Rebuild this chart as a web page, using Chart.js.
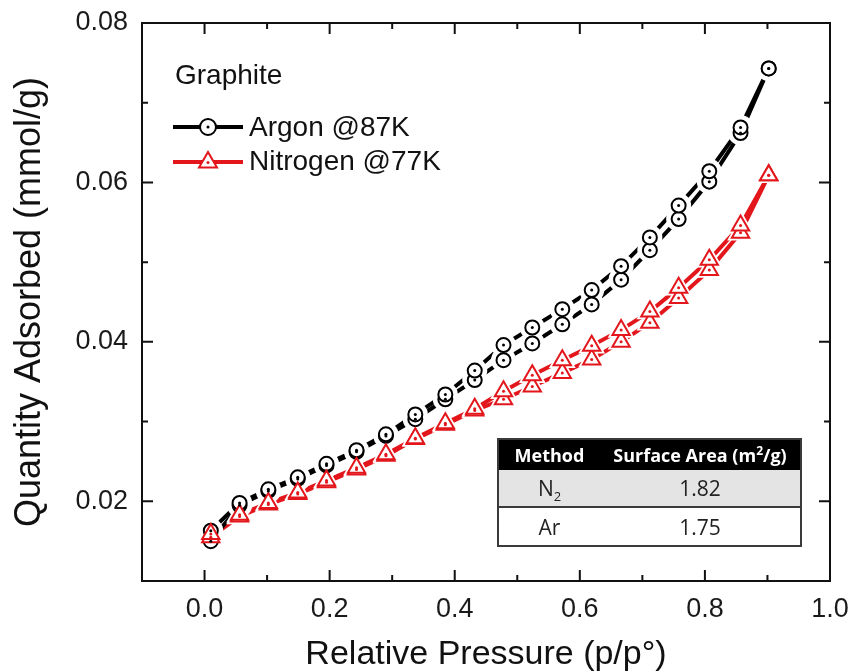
<!DOCTYPE html>
<html>
<head>
<meta charset="utf-8">
<script src="https://cdn.jsdelivr.net/npm/chart.js@4.4.1/dist/chart.umd.min.js"></script>
<style>
html,body{margin:0;padding:0;background:#fff;}
#wrap{position:relative;width:851px;height:672px;overflow:hidden;}
canvas{display:block;}
.leg{position:absolute;font-family:"Liberation Sans",Arial,sans-serif;font-size:28px;color:#111;white-space:nowrap;line-height:34px;}
.leg svg{vertical-align:middle;margin-right:4px;}
.leg span{vertical-align:middle;}
#tbl{position:absolute;left:497px;top:438px;width:305px;border-collapse:collapse;font-family:"Open Sans",sans-serif;color:#222;box-sizing:border-box;border:2px solid #3a3a3a;}
#tbl th{background:#000;color:#fff;font-weight:700;font-size:18px;height:30px;padding:0;line-height:30px;}
#tbl td{font-size:21px;text-align:center;padding:0;}
#tbl tr.g td{background:#e4e4e4;height:36px;border-bottom:2px solid #3a3a3a;}
#tbl tr.w td{background:#fff;height:37px;}
#tbl sup{font-size:12px;vertical-align:7px;line-height:0;}
#tbl sub{font-size:13px;vertical-align:-5px;line-height:0;}
</style>
</head>
<body>
<div id="wrap">
<canvas id="c" width="851" height="672"></canvas>
<div class="leg" style="left:175px;top:58px">Graphite</div>
<div class="leg" style="left:173px;top:108px"><svg width="72" height="24" viewBox="0 0 72 24"><line x1="0" y1="12" x2="70" y2="12" stroke="#000" stroke-width="4"/><circle cx="35" cy="12" r="8" fill="#fff" stroke="#000" stroke-width="2"/><circle cx="35" cy="12" r="1.5" fill="#000"/></svg><span>Argon @87K</span></div>
<div class="leg" style="left:173px;top:142px"><svg width="72" height="24" viewBox="0 0 72 24"><line x1="0" y1="13" x2="70" y2="13" stroke="#e3161b" stroke-width="4"/><polygon points="35,3 44,18.5 26,18.5" fill="#fff" stroke="#e3161b" stroke-width="2"/><circle cx="35" cy="13.5" r="1.5" fill="#e3161b"/></svg><span>Nitrogen @77K</span></div>
<table id="tbl">
<tr><th style="width:101px">Method</th><th>Surface Area (m<sup>2</sup>/g)</th></tr>
<tr class="g"><td>N<sub>2</sub></td><td>1.82</td></tr>
<tr class="w"><td>Ar</td><td>1.75</td></tr>
</table>
</div>
<script>
// ---- data ----
const pressure = [0.010, 0.056, 0.102, 0.149, 0.195, 0.243, 0.290, 0.337, 0.385, 0.432,
                  0.478, 0.524, 0.572, 0.619, 0.666, 0.712, 0.758, 0.807, 0.857, 0.902];
const argonAds = [0.0150, 0.0195, 0.0213, 0.0228, 0.0245, 0.0262, 0.0282, 0.0303, 0.0328, 0.0352,
                  0.0377, 0.0398, 0.0422, 0.0447, 0.0478, 0.0515, 0.0554, 0.0601, 0.0662, 0.0743];
const argonDes = [0.0163, 0.0198, 0.0215, 0.0230, 0.0247, 0.0264, 0.0284, 0.0309, 0.0334, 0.0364,
                  0.0396, 0.0418, 0.0441, 0.0465, 0.0495, 0.0531, 0.0571, 0.0614, 0.0669, 0.0743];
const nitrogenAds = [0.0155, 0.0181, 0.0196, 0.0209, 0.0224, 0.0240, 0.0257, 0.0278, 0.0296, 0.0314,
                     0.0328, 0.0344, 0.0361, 0.0378, 0.0400, 0.0424, 0.0455, 0.0490, 0.0537, 0.0609];
const nitrogenDes = [0.0159, 0.0183, 0.0198, 0.0211, 0.0226, 0.0242, 0.0259, 0.0279, 0.0298, 0.0316,
                     0.0338, 0.0358, 0.0377, 0.0395, 0.0415, 0.0438, 0.0468, 0.0503, 0.0546, 0.0609];
const xMajorTicks = [0.0, 0.2, 0.4, 0.6, 0.8, 1.0];
const xMinorTicks = [0.1, 0.3, 0.5, 0.7, 0.9];
const yMajorTicks = [0.02, 0.04, 0.06, 0.08];
const yMinorTicks = [0.03, 0.05, 0.07];

const BLACK = '#000000';
const RED = '#e3161b';
const toPts = ys => pressure.map((x, i) => ({x: x, y: ys[i]}));

// connecting line only
function lineDs(label, ys, color) {
  return {label: label, data: toPts(ys), borderColor: color, borderWidth: 4,
          pointRadius: 0, tension: 0, fill: false, order: 3};
}
// white gap around the symbols (Origin-style "gap to symbol")
function haloDs(label, ys, style, radius) {
  return {label: label, data: toPts(ys), showLine: false, pointStyle: style,
          pointRadius: radius, pointBorderWidth: 0, pointBackgroundColor: '#ffffff',
          pointBorderColor: '#ffffff', backgroundColor: '#ffffff', borderColor: '#ffffff', order: 2};
}
// symbols
function markDs(label, ys, color, style, radius) {
  return {label: label, data: toPts(ys), showLine: false, borderColor: color, pointStyle: style,
          pointRadius: radius, pointBorderWidth: 2, pointBorderColor: color,
          pointBackgroundColor: '#ffffff', order: 1, isMarker: true};
}

const noPad = s => { s.paddingTop = 0; s.paddingBottom = 0; s.paddingLeft = 0; s.paddingRight = 0; };

const framePlugin = {
  id: 'frame',
  beforeDatasetsDraw(chart) {
    const {ctx, chartArea: {left, right, top, bottom}, scales: {x, y}} = chart;
    ctx.save();
    ctx.strokeStyle = '#111';
    ctx.lineWidth = 2;
    ctx.beginPath();
    const tick = (vals, len, axis) => vals.forEach(v => {
      if (axis === 'x') {
        const p = x.getPixelForValue(v);
        ctx.moveTo(p, bottom); ctx.lineTo(p, bottom - len);
        ctx.moveTo(p, top); ctx.lineTo(p, top + len);
      } else {
        const p = y.getPixelForValue(v);
        ctx.moveTo(left, p); ctx.lineTo(left + len, p);
        ctx.moveTo(right, p); ctx.lineTo(right - len, p);
      }
    });
    tick(xMajorTicks, 11, 'x'); tick(xMinorTicks, 6, 'x');
    tick(yMajorTicks, 11, 'y'); tick(yMinorTicks, 6, 'y');
    ctx.stroke();
    ctx.strokeRect(left, top, right - left, bottom - top);
    ctx.restore();
  },
  afterDatasetsDraw(chart) {
    const ctx = chart.ctx;
    ctx.save();
    chart.data.datasets.forEach((d, i) => {
      if (!d.isMarker) return;
      const meta = chart.getDatasetMeta(i);
      ctx.fillStyle = d.borderColor;
      meta.data.forEach(pt => {
        ctx.beginPath(); ctx.arc(pt.x, pt.y, 1.5, 0, Math.PI * 2); ctx.fill();
      });
    });
    ctx.restore();
  }
};

new Chart(document.getElementById('c'), {
  type: 'line',
  data: {
    datasets: [
      lineDs('Argon @87K', argonAds, BLACK),
      lineDs('Argon @87K (desorption)', argonDes, BLACK),
      lineDs('Nitrogen @77K', nitrogenAds, RED),
      lineDs('Nitrogen @77K (desorption)', nitrogenDes, RED),
      haloDs('Argon gap', argonAds, 'circle', 12.5),
      haloDs('Argon gap des', argonDes, 'circle', 12.5),
      haloDs('Nitrogen gap', nitrogenAds, 'triangle', 15.5),
      haloDs('Nitrogen gap des', nitrogenDes, 'triangle', 15.5),
      markDs('Nitrogen @77K (desorption) symbols', nitrogenDes, RED, 'triangle', 10),
      markDs('Nitrogen @77K symbols', nitrogenAds, RED, 'triangle', 10),
      markDs('Argon @87K (desorption) symbols', argonDes, BLACK, 'circle', 7),
      markDs('Argon @87K symbols', argonAds, BLACK, 'circle', 7)
    ]
  },
  options: {
    responsive: false, animation: false, devicePixelRatio: 1,
    layout: {padding: {left: 0, right: 21, top: 23, bottom: 0}, autoPadding: false},
    plugins: {legend: {display: false}, tooltip: {enabled: false}},
    scales: {
      x: {
        type: 'linear', min: -0.1, max: 1.0, position: 'bottom',
        afterBuildTicks: s => { s.ticks = xMajorTicks.map(v => ({value: v})); },
        afterFit: s => { s.height = 91; noPad(s); },
        grid: {display: false, drawTicks: false},
        border: {display: false},
        ticks: {color: '#1a1a1a', padding: 12, font: {family: '"Liberation Sans", Arial, sans-serif', size: 27},
                callback: v => v.toFixed(1), maxRotation: 0},
        title: {display: true, text: 'Relative Pressure (p/p°)', color: '#111',
                font: {family: '"Liberation Sans", Arial, sans-serif', size: 34, lineHeight: 1}, padding: {top: 0, bottom: 0}}
      },
      y: {
        type: 'linear', min: 0.01, max: 0.08,
        afterBuildTicks: s => { s.ticks = yMajorTicks.map(v => ({value: v})); },
        afterFit: s => { s.width = 142; noPad(s); },
        grid: {display: false, drawTicks: false},
        border: {display: false},
        ticks: {color: '#1a1a1a', padding: 14, font: {family: '"Liberation Sans", Arial, sans-serif', size: 27},
                callback: v => v.toFixed(2)},
        title: {display: true, text: 'Quantity Adsorbed (mmol/g)', color: '#111',
                font: {family: '"Liberation Sans", Arial, sans-serif', size: 36, lineHeight: 1}, padding: {top: 12, bottom: 0}}
      }
    }
  },
  plugins: [framePlugin]
});
</script>
</body>
</html>
